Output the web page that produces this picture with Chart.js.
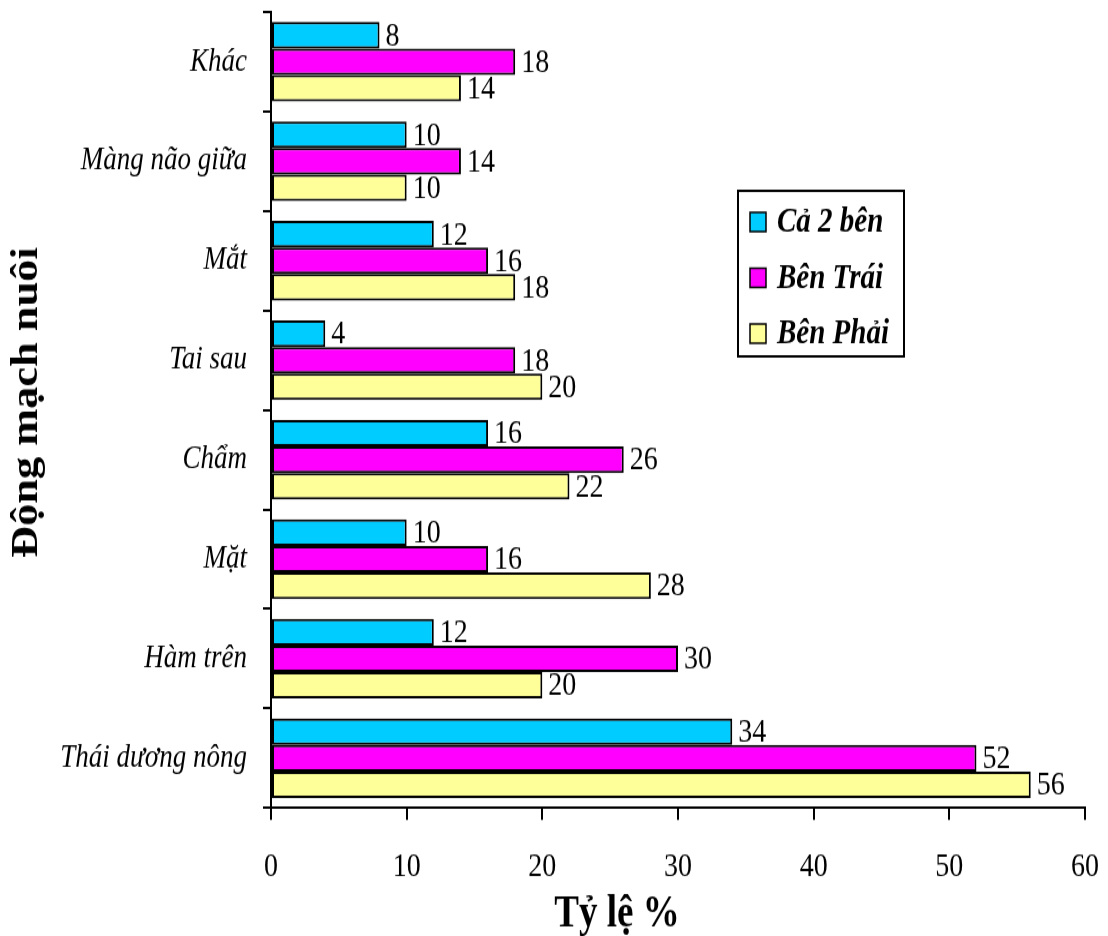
<!DOCTYPE html>
<html>
<head>
<meta charset="utf-8">
<script src="https://cdn.jsdelivr.net/npm/chart.js@4.4.1/dist/chart.umd.min.js"></script>
<style>
  html, body { margin: 0; padding: 0; background: #ffffff; }
  body { width: 1108px; height: 936px; overflow: hidden; }
  #wrap { width: 1108px; height: 780px; transform: scaleY(1.2); transform-origin: 0 0; }
  canvas { display: block; }
</style>
</head>
<body>
<div id="wrap"><canvas id="c" width="1108" height="780"></canvas></div>
<script>
// Arteries (top to bottom) and the share of cases per side, in percent
const categories = ['Khác', 'Màng não giữa', 'Mắt', 'Tai sau', 'Chẩm', 'Mặt', 'Hàm trên', 'Thái dương nông'];
const seriesNames = ['Cả 2 bên', 'Bên Trái', 'Bên Phải'];
const bothSides  = [8, 10, 12, 4, 16, 10, 12, 34];
const leftSide   = [18, 14, 16, 18, 26, 16, 30, 52];
const rightSide  = [14, 10, 18, 20, 22, 28, 20, 56];
const xTickValues = [0, 10, 20, 30, 40, 50, 60];
const xTitle = 'Tỷ lệ %';
const yTitle = 'Động mạch nuôi';

const colors = ['#00CCFF', '#FF00FF', '#FFFF99'];
const serif = "'Liberation Serif', 'Times New Roman', serif";

// Value printed just past the end of each bar
const valueLabels = {
  id: 'valueLabels',
  afterDatasetsDraw(chart) {
    const ctx = chart.ctx;
    ctx.save();
    ctx.font = '28px ' + serif;
    ctx.fillStyle = '#000';
    ctx.textAlign = 'left';
    ctx.textBaseline = 'middle';
    chart.data.datasets.forEach((ds, i) => {
      chart.getDatasetMeta(i).data.forEach((bar, j) => {
        ctx.fillText(String(ds.data[j]), bar.x + 6, bar.y + 1);
      });
    });
    ctx.restore();
  }
};

// Boxed legend inside the plot, plus the two axis titles
const decorations = {
  id: 'decorations',
  afterDraw(chart) {
    const ctx = chart.ctx;
    ctx.save();
    // legend box
    const bx = 738, by = 159, bw = 166, bh = 138;
    ctx.fillStyle = '#fff';
    ctx.fillRect(bx, by, bw, bh);
    ctx.lineWidth = 2;
    ctx.strokeStyle = '#000';
    ctx.strokeRect(bx, by, bw, bh);
    const rowY = [185, 231.5, 278];
    ctx.font = 'italic bold 29px ' + serif;
    ctx.textAlign = 'left';
    ctx.textBaseline = 'middle';
    chart.data.datasets.forEach((ds, i) => {
      const y = rowY[i];
      ctx.fillStyle = ds.backgroundColor;
      ctx.fillRect(750, y - 8, 16, 16);
      ctx.lineWidth = 1.5;
      ctx.strokeRect(750, y - 8, 16, 16);
      ctx.fillStyle = '#000';
      ctx.fillText(ds.label, 777, y + 1);
    });

    // x axis title
    ctx.font = 'bold 37px ' + serif;
    ctx.textAlign = 'center';
    ctx.textBaseline = 'alphabetic';
    ctx.fillText(xTitle, 617, 772);

    // y axis title, rotated, trimmed at the top edge of its box
    ctx.beginPath();
    ctx.rect(0, 206, 80, 574);
    ctx.clip();
    ctx.translate(37, 465);
    ctx.rotate(-Math.PI / 2);
    ctx.textAlign = 'left';
    ctx.fillText(yTitle, 0, 0);
    ctx.restore();
  }
};

new Chart(document.getElementById('c'), {
  type: 'bar',
  data: {
    labels: categories,
    datasets: [
      { label: seriesNames[0], data: bothSides, backgroundColor: colors[0] },
      { label: seriesNames[1], data: leftSide, backgroundColor: colors[1] },
      { label: seriesNames[2], data: rightSide, backgroundColor: colors[2] }
    ].map(d => Object.assign(d, {
      borderColor: '#000', borderWidth: 2, borderSkipped: false,
      categoryPercentage: 0.8, barPercentage: 1.0
    }))
  },
  options: {
    indexAxis: 'y',
    responsive: false,
    animation: false,
    devicePixelRatio: 1,
    layout: { padding: { top: 10, right: 23, left: 0, bottom: 0 } },
    plugins: { legend: { display: false }, tooltip: { enabled: false } },
    scales: {
      x: {
        min: 0, max: 60,
        afterBuildTicks(scale) { scale.ticks = xTickValues.map(v => ({ value: v })); },
        afterFit(scale) { scale.height = 106.7; scale.paddingLeft = 0; scale.paddingRight = 0; },
        border: { display: true, color: '#000', width: 2 },
        grid: { display: true, drawOnChartArea: false, drawTicks: true, tickLength: 10, color: '#000', lineWidth: 2 },
        ticks: { color: '#000', font: { family: serif, size: 28 }, padding: 23, maxRotation: 0 }
      },
      y: {
        afterFit(scale) { scale.width = 271; scale.paddingTop = 0; scale.paddingBottom = 0; },
        border: { display: true, color: '#000', width: 2 },
        grid: { display: true, offset: true, drawOnChartArea: false, drawTicks: true, tickLength: 8, color: '#000', lineWidth: 2 },
        ticks: { color: '#000', font: { family: serif, size: 27, style: 'italic' }, padding: 16 }
      }
    }
  },
  plugins: [valueLabels, decorations]
});
</script>
</body>
</html>
